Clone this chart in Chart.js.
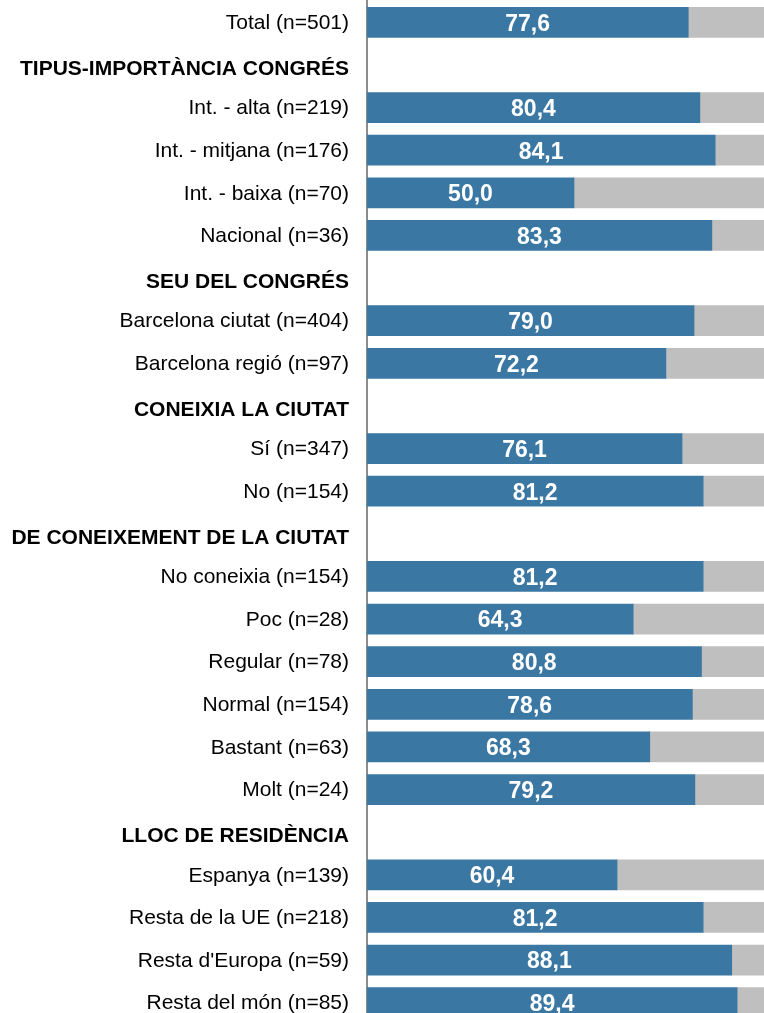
<!DOCTYPE html>
<html>
<head>
<meta charset="utf-8">
<script src="https://cdn.jsdelivr.net/npm/chart.js@4"></script>
<style>
  html, body { margin: 0; padding: 0; background: #fff; overflow: hidden; }
  #wrap { width: 764px; height: 1013px; overflow: hidden; }
</style>
</head>
<body>
<div id="wrap"><canvas id="chart" width="781" height="1024"></canvas></div>
<script>
// rows of the chart, section headers have no bar
const categories = [
  'Total (n=501)',
  'TIPUS-IMPORTÀNCIA CONGRÉS',
  'Int. - alta (n=219)',
  'Int. - mitjana (n=176)',
  'Int. - baixa (n=70)',
  'Nacional (n=36)',
  'SEU DEL CONGRÉS',
  'Barcelona ciutat (n=404)',
  'Barcelona regió (n=97)',
  'CONEIXIA LA CIUTAT',
  'Sí (n=347)',
  'No (n=154)',
  'DE CONEIXEMENT DE LA CIUTAT',
  'No coneixia (n=154)',
  'Poc (n=28)',
  'Regular (n=78)',
  'Normal (n=154)',
  'Bastant (n=63)',
  'Molt (n=24)',
  'LLOC DE RESIDÈNCIA',
  'Espanya (n=139)',
  'Resta de la UE (n=218)',
  "Resta d'Europa (n=59)",
  'Resta del món (n=85)'
];

const headers = [
  'TIPUS-IMPORTÀNCIA CONGRÉS',
  'SEU DEL CONGRÉS',
  'CONEIXIA LA CIUTAT',
  'DE CONEIXEMENT DE LA CIUTAT',
  'LLOC DE RESIDÈNCIA'
];

const values = [
  77.6, null, 80.4, 84.1, 50.0, 83.3, null, 79.0, 72.2, null, 76.1, 81.2,
  null, 81.2, 64.3, 80.8, 78.6, 68.3, 79.2, null, 60.4, 81.2, 88.1, 89.4
];

const rest = values.map(v => v == null ? null : +(100 - v).toFixed(1));

const BLUE = '#3a77a3';
const GREY = '#bfbfbf';
const FONT = '"Liberation Sans", Arial, sans-serif';

// category labels, drawn on the y scale positions (headers sit a bit lower)
const rowLabels = {
  id: 'rowLabels',
  afterDraw(chart) {
    const c = chart.ctx;
    const y = chart.scales.y;
    c.save();
    c.fillStyle = '#000';
    c.textAlign = 'right';
    c.textBaseline = 'middle';
    categories.forEach((label, i) => {
      const isHeader = headers.includes(label);
      c.font = (isHeader ? 'bold ' : '') + '21px ' + FONT;
      c.fillText(label, y.right - 18, y.getPixelForTick(i) + (isHeader ? 4 : 1));
    });
    c.restore();
  }
};

const valueLabels = {
  id: 'valueLabels',
  afterDatasetsDraw(chart) {
    const c = chart.ctx;
    const meta = chart.getDatasetMeta(0);
    c.save();
    c.fillStyle = '#fff';
    c.font = 'bold 23px ' + FONT;
    c.textAlign = 'center';
    c.textBaseline = 'middle';
    meta.data.forEach((bar, i) => {
      const v = values[i];
      if (v == null) return;
      c.fillText(v.toFixed(1).replace('.', ','), (bar.base + bar.x) / 2, bar.y + 2);
    });
    c.restore();
  }
};

new Chart(document.getElementById('chart'), {
  type: 'bar',
  data: {
    labels: categories,
    datasets: [
      { data: values, backgroundColor: BLUE, barThickness: 30 },
      { data: rest, backgroundColor: GREY, barThickness: 30 }
    ]
  },
  options: {
    indexAxis: 'y',
    responsive: false,
    animation: false,
    layout: { padding: { top: 1, left: 0, right: 0, bottom: 0 } },
    plugins: { legend: { display: false }, tooltip: { enabled: false } },
    scales: {
      x: { stacked: true, min: 0, max: 100, display: false },
      y: {
        stacked: true,
        afterFit(scale) {
          scale.width = 367;
          scale.paddingTop = 0;
          scale.paddingBottom = 0;
        },
        grid: { display: false, drawTicks: false },
        border: { display: true, color: '#8c8c8c', width: 2 },
        ticks: { display: false, autoSkip: false }
      }
    }
  },
  plugins: [valueLabels, rowLabels]
});
</script>
</body>
</html>
